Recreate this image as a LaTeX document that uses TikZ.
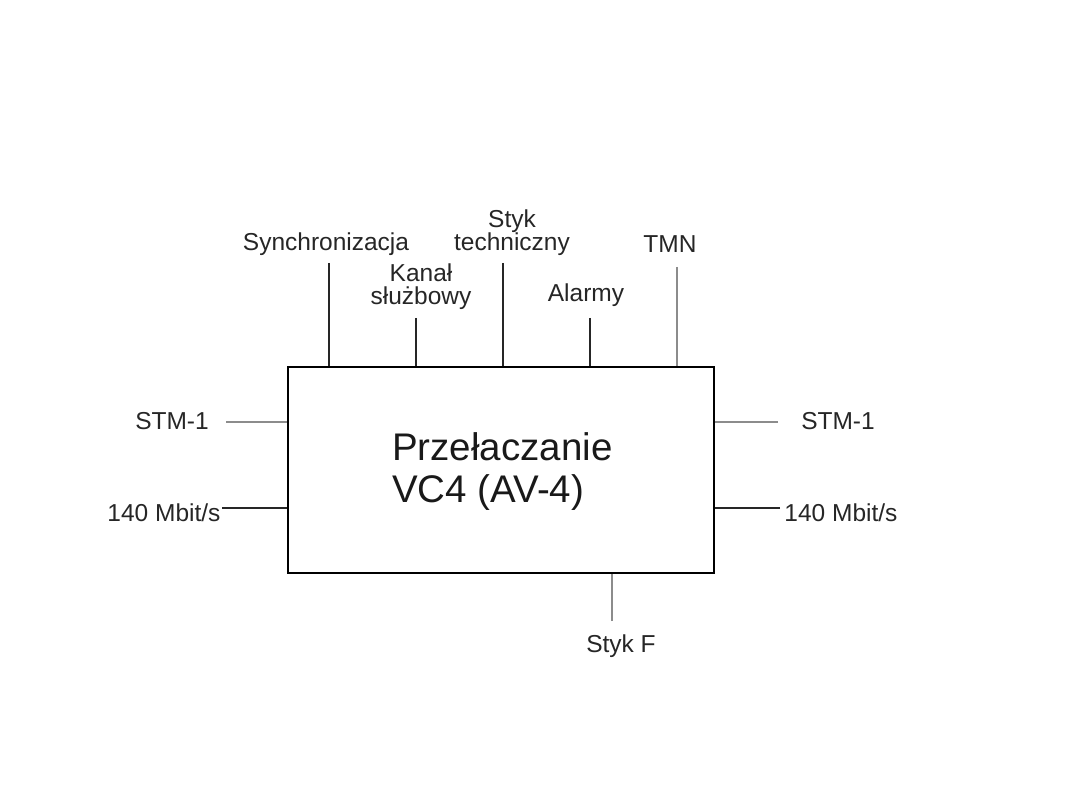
\documentclass[tikz,border=0pt]{standalone}
\usepackage{fontspec}
\setmainfont{Liberation Sans}
\begin{document}
\begin{tikzpicture}[x=1pt,y=-1pt,
  lbl/.style={inner sep=0pt,font=\fontsize{24.5}{23}\selectfont,align=center,text=black!85},
  blk/.style={line width=1.6pt,black!85},
  gry/.style={line width=1.6pt,black!45}]
\useasboundingbox (0,0) rectangle (1080,810);
\node[draw,line width=2pt,minimum width=426pt,minimum height=206pt,inner sep=0pt] (box) at (501,470) {};
\node[inner sep=0pt,anchor=base west,align=left,font=\fontsize{38.5}{43}\selectfont,text=black!90] (title) at (392,503) {Przełaczanie\\VC4 (AV-4)};
% top labels
\node[lbl,anchor=base] (sync) at (326,251) {Synchronizacja};
\node[lbl,anchor=base] (kan) at (421,305) {Kanał\\służbowy};
\node[lbl,anchor=base] (styk) at (512,251) {Styk\\techniczny};
\node[lbl,anchor=base] (alarm) at (586,302) {Alarmy};
\node[lbl,anchor=base] (tmn) at (670,253) {TMN};
% side labels
\node[lbl,anchor=base] (stmL) at (172,430) {STM-1};
\node[lbl,anchor=base] (mbL) at (164,521) {140 Mbit/s};
\node[lbl,anchor=base] (stmR) at (838,430) {STM-1};
\node[lbl,anchor=base] (mbR) at (841,521) {140 Mbit/s};
\node[lbl,anchor=base] (styf) at (621,652) {Styk F};
% free ends
\coordinate (e1) at (329,263);
\coordinate (e2) at (416,318);
\coordinate (e3) at (503,263);
\coordinate (e4) at (590,318);
\coordinate (e5) at (677,267);
\coordinate (e6) at (226,422);
\coordinate (e7) at (222,508);
\coordinate (e8) at (778,422);
\coordinate (e9) at (780,508);
\coordinate (e10) at (612,621);
\draw[blk] (e1) -- (e1 |- box.north);
\draw[blk] (e2) -- (e2 |- box.north);
\draw[blk] (e3) -- (e3 |- box.north);
\draw[blk] (e4) -- (e4 |- box.north);
\draw[gry] (e5) -- (e5 |- box.north);
\draw[gry] (e6) -- (e6 -| box.west);
\draw[blk] (e7) -- (e7 -| box.west);
\draw[gry] (e8) -- (e8 -| box.east);
\draw[blk] (e9) -- (e9 -| box.east);
\draw[gry] (e10) -- (e10 |- box.south);
\end{tikzpicture}
\end{document}
